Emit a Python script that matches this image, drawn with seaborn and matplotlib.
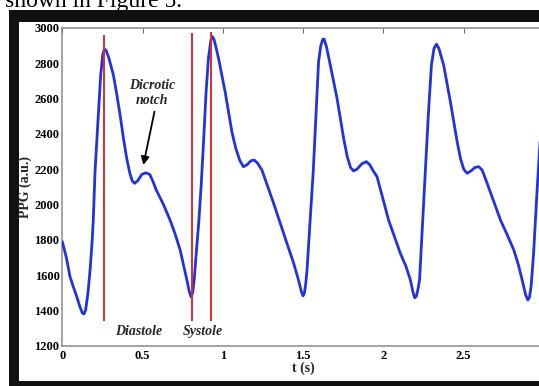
import matplotlib
matplotlib.use("Agg")
import matplotlib.pyplot as plt
from matplotlib.patches import Rectangle
import seaborn as sns
import pandas as pd

# ---- data ----
t_s = [0.000, 0.025, 0.048, 0.070, 0.090, 0.110, 0.125, 0.135, 0.145, 0.160, 0.173, 0.185,
       0.193, 0.204, 0.221, 0.239, 0.252, 0.262, 0.272, 0.290, 0.318, 0.340, 0.360, 0.380,
       0.401, 0.420, 0.435, 0.450, 0.470, 0.495, 0.520, 0.545, 0.565, 0.585, 0.630, 0.671,
       0.700, 0.734, 0.776, 0.790, 0.802, 0.812, 0.822, 0.834, 0.850, 0.865, 0.880, 0.895,
       0.910, 0.925, 0.935, 0.945, 0.960, 0.973, 1.014, 1.056, 1.080, 1.105, 1.128, 1.150,
       1.175, 1.195, 1.215, 1.243, 1.280, 1.316, 1.399, 1.440, 1.471, 1.488, 1.499, 1.508,
       1.516, 1.524, 1.544, 1.563, 1.582, 1.596, 1.610, 1.622, 1.630, 1.645, 1.669, 1.711,
       1.752, 1.775, 1.795, 1.814, 1.835, 1.865, 1.893, 1.915, 1.940, 1.960, 2.000, 2.032,
       2.105, 2.140, 2.168, 2.185, 2.195, 2.205, 2.215, 2.225, 2.250, 2.261, 2.282, 2.299,
       2.315, 2.330, 2.345, 2.375, 2.417, 2.459, 2.480, 2.500, 2.521, 2.545, 2.570, 2.594,
       2.615, 2.646, 2.690, 2.729, 2.770, 2.812, 2.840, 2.864, 2.885, 2.899, 2.910, 2.920,
       2.935, 2.955, 2.975, 3.000]
ppg = [1790, 1700, 1591, 1530, 1478, 1420, 1385, 1380, 1400, 1500, 1629, 1780,
       1912, 2190, 2450, 2734, 2850, 2880, 2875, 2830, 2734, 2620, 2507, 2380,
       2262, 2180, 2135, 2120, 2135, 2170, 2180, 2170, 2130, 2082, 2000, 1912,
       1840, 1742, 1572, 1510, 1476, 1500, 1580, 1723, 1900, 2110, 2360, 2630,
       2828, 2930, 2951, 2935, 2880, 2828, 2639, 2413, 2320, 2250, 2214, 2225,
       2248, 2252, 2235, 2196, 2100, 2007, 1780, 1670, 1572, 1510, 1482, 1500,
       1550, 1629, 1912, 2190, 2545, 2809, 2900, 2935, 2938, 2895, 2790, 2602,
       2375, 2270, 2210, 2190, 2200, 2230, 2243, 2225, 2185, 2158, 2020, 1912,
       1724, 1650, 1572, 1500, 1472, 1480, 1520, 1572, 2008, 2190, 2545, 2790,
       2885, 2908, 2885, 2790, 2582, 2356, 2260, 2200, 2177, 2190, 2210, 2214,
       2195, 2120, 2010, 1912, 1830, 1742, 1660, 1572, 1490, 1459, 1475, 1540,
       1720, 2050, 2350, 2750]

marker_t = [0.262, 0.807, 0.927]
marker_top = [2960, 2973, 2979]
marker_bottom = 1340

phase_labels = ["Diastole", "Systole"]
phase_t = [0.476, 0.877]
phase_v = 1283

x_ticks = [0, 0.5, 1, 1.5, 2, 2.5]
x_tick_labels = ["0", "0.5", "1", "1.5", "2", "2.5"]
y_ticks = [1200, 1400, 1600, 1800, 2000, 2200, 2400, 2600, 2800, 3000]

df = pd.DataFrame({"t": t_s, "ppg": ppg})

sns.set_style("white")
plt.rcParams["font.family"] = ["Liberation Serif", "DejaVu Serif"]

W, H = 539, 386
fig = plt.figure(figsize=(W / 100, H / 100), dpi=100)
fig.patch.set_facecolor("white")

# page text (cropped at the top of the picture, as in the reference)
fig.text(5 / W, 1 - 7.5 / H, "shown in Figure 5.", fontsize=17, color="black",
         ha="left", va="baseline", family=["Liberation Serif"])

# black frame and white inner panel
fig.add_artist(Rectangle((8.5 / W, 0), 1.2, 1 - 10 / H, transform=fig.transFigure,
                         facecolor="#111111", edgecolor="none", zorder=-10))
fig.add_artist(Rectangle((18.5 / W, 5.3 / H), 1.2, 1 - 21.7 / H - 5.3 / H,
                         transform=fig.transFigure, facecolor="white",
                         edgecolor="none", zorder=-9))

left = 62.3 / W
right = 544 / W
bottom = (H - 345.7) / H
top = (H - 28) / H
ax = fig.add_axes([left, bottom, right - left, top - bottom])
ax.set_facecolor("white")

sns.lineplot(data=df, x="t", y="ppg", ax=ax, color="#2233dd", linewidth=2.0,
             sort=False, estimator=None, zorder=3,
             solid_joinstyle="round", solid_capstyle="round")

ax.vlines(marker_t, marker_bottom, marker_top, color="#e02828", linewidth=1.4, zorder=4)

ax.set_xlim(0, 3)
ax.set_ylim(1200, 3000)
ax.set_xticks(x_ticks)
ax.set_xticklabels(x_tick_labels)
ax.set_yticks(y_ticks)
ax.set_yticklabels([str(v) for v in y_ticks])

for s in ax.spines.values():
    s.set_color("#8a8a8a")
    s.set_linewidth(1.1)
ax.tick_params(direction="in", length=3.5, width=0.8, color="#707070",
               top=True, right=True, labelsize=9, labelcolor="black")
ax.tick_params(axis="y", pad=2)
ax.tick_params(axis="x", pad=3)
for lab in ax.get_xticklabels() + ax.get_yticklabels():
    lab.set_fontweight("bold")

ax.set_xlabel("t (s)", fontsize=10, fontweight="bold", labelpad=0)
ax.set_ylabel("PPG (a.u.)", fontsize=10, fontweight="bold", labelpad=2)

ax.text(0.56, 2677, "Dicrotic", fontsize=10, fontweight="bold", style="italic",
        ha="center", va="center")
ax.text(0.56, 2588, "notch", fontsize=10, fontweight="bold", style="italic",
        ha="center", va="center")
ax.annotate("", xy=(0.505, 2224), xytext=(0.574, 2526),
            arrowprops=dict(arrowstyle="-|>", color="black", lw=1.3,
                            mutation_scale=12, shrinkA=0, shrinkB=0))
for lab, tx in zip(phase_labels, phase_t):
    ax.text(tx, phase_v, lab, fontsize=10, fontweight="bold", style="italic",
            ha="center", va="center")

fig.savefig("out.png", dpi=100)
